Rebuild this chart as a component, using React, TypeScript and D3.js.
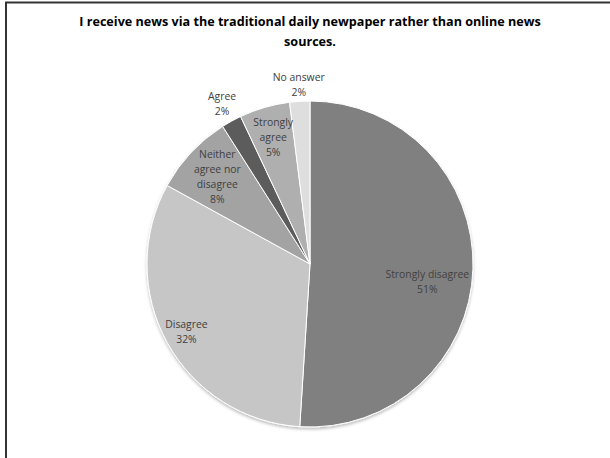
import React from "react";
import * as d3 from "d3";

const categories = ["Strongly disagree", "Disagree", "Neither agree nor disagree", "Agree", "Strongly agree", "No answer"];
const values = [51, 32, 8, 2, 5, 2];
const labelLines = [["Strongly disagree"], ["Disagree"], ["Neither", "agree nor", "disagree"], ["Agree"], ["Strongly", "agree"], ["No answer"]];
const colors = ["#808080", "#c6c6c6", "#a3a3a3", "#5c5c5c", "#afafaf", "#dedede"];
const labelRadius = [0.72, 0.865, 0.78, 1.12, 0.81, 1.1];
const labelDy = [14, 0, 0, 0, 0, 0];
const titleLines = ["I receive news via the traditional daily newpaper rather than online news", "sources."];

export default function App() {
  const W = 610, H = 458;
  const cx = 310, cy = 264, R = 163;
  const pie = d3.pie<number>().sort(null).value((d) => d);
  const arcs = pie(values);
  const arc = d3.arc<d3.PieArcDatum<number>>().innerRadius(0).outerRadius(R);
  const lh = 15;
  return (
    <svg width={W} height={H} style={{ position: "absolute", left: 0, top: 0 }} fontFamily="'Open Sans', sans-serif">
      <defs>
        <filter id="sh" x="-10%" y="-10%" width="120%" height="120%">
          <feDropShadow dx="0" dy="2" stdDeviation="1.5" floodColor="#000" floodOpacity="0.25" />
        </filter>
      </defs>
      <rect x={0} y={0} width={W} height={H} fill="#fff" />
      <rect x={6} y={2.5} width={W + 10} height={H + 10} fill="none" stroke="#333" strokeWidth={2} />
      {titleLines.map((t, i) => (
        <text key={i} x={310} y={26 + i * 20} textAnchor="middle" fontWeight="bold" fontSize={12.6} fill="#000">{t}</text>
      ))}
      <g transform={`translate(${cx},${cy})`}>
        <g filter="url(#sh)">
          {arcs.map((a, i) => (
            <path key={i} d={arc(a) || ""} fill={colors[i]} stroke="#fff" strokeWidth={1} />
          ))}
        </g>
        {arcs.map((a, i) => {
          const mid = (a.startAngle + a.endAngle) / 2;
          const r = R * labelRadius[i];
          const x = Math.sin(mid) * r;
          const y = -Math.cos(mid) * r + labelDy[i];
          const lines = [...labelLines[i], `${values[i]}%`];
          const y0 = y - ((lines.length - 1) * lh) / 2;
          return (
            <text key={i} textAnchor="middle" fontSize={10.4} fill="#404040">
              {lines.map((l, j) => (
                <tspan key={j} x={x} y={y0 + j * lh} dy="0.35em">{l}</tspan>
              ))}
            </text>
          );
        })}
      </g>
    </svg>
  );
}
